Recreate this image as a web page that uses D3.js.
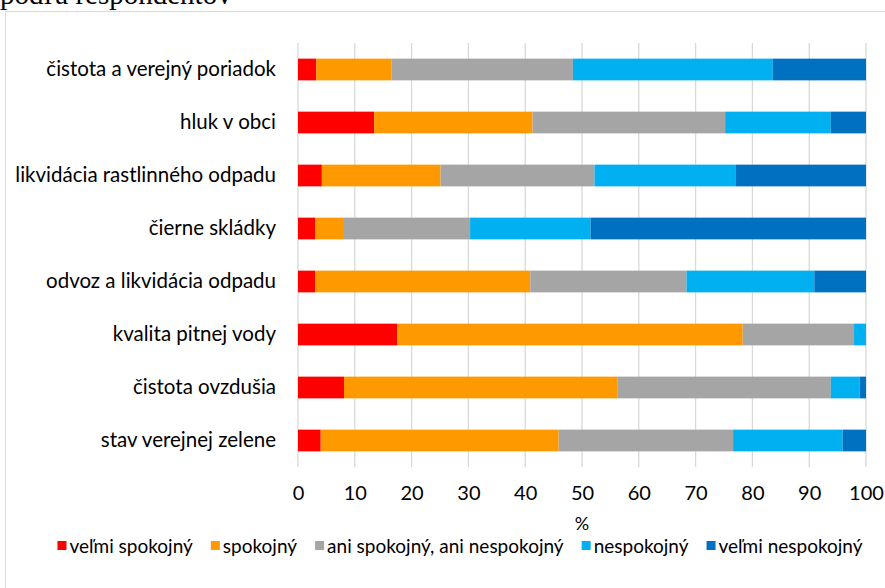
<!DOCTYPE html>
<html><head><meta charset="utf-8">
<script src="https://cdn.jsdelivr.net/npm/d3@7"></script>
<style>
html,body{margin:0;padding:0;background:#fff;}
svg{display:block;}
text{font-family:Lato,"Open Sans",sans-serif;fill:#000;}
</style></head>
<body>
<svg id="c" width="885" height="588"></svg>
<script>
const categories = ["čistota a verejný poriadok","hluk v obci","likvidácia rastlinného odpadu","čierne skládky","odvoz a likvidácia odpadu","kvalita pitnej vody","čistota ovzdušia","stav verejnej zelene"];
const seriesNames = ["veľmi spokojný","spokojný","ani spokojný, ani nespokojný","nespokojný","veľmi nespokojný"];
const velmiSpokojny   = [3.2, 13.4, 4.2, 3.0, 3.0, 17.5, 8.1, 4.0];
const spokojny        = [13.3, 27.9, 20.9, 5.1, 37.9, 60.8, 48.1, 41.9];
const aniAni          = [31.9, 33.9, 27.1, 22.2, 27.5, 19.6, 37.6, 30.7];
const nespokojny      = [35.2, 18.6, 24.9, 21.2, 22.5, 2.1, 5.1, 19.3];
const velmiNespokojny = [16.4, 6.2, 22.9, 48.5, 9.1, 0.0, 1.1, 4.1];
const xTicks = [0,10,20,30,40,50,60,70,80,90,100];
const colors = ["#FF0000","#FF9900","#A5A5A5","#00B0F0","#0070C0"];
const axisTitle = "%";
const topText = "podľa respondentov";

const seriesValues = [velmiSpokojny, spokojny, aniAni, nespokojny, velmiNespokojny];
const rows = categories.map((c,i)=>{const o={cat:c}; seriesNames.forEach((s,j)=>o[s]=seriesValues[j][i]); return o;});
const stacked = d3.stack().keys(seriesNames)(rows);

const svg = d3.select("#c");
const m = {left:298, right:866, top:43, bottom:467};
const x = d3.scaleLinear().domain([0,100]).range([m.left, m.right]);
const y = d3.scaleBand().domain(categories).range([m.top, m.bottom]).paddingInner(0.59).paddingOuter(0.295);

// top cut text
svg.append("text").attr("x",0).attr("y",4).style("font-family","'Liberation Serif',serif").style("font-size","29px").text(topText);
// chart frame
svg.append("path").attr("d","M5.5,600 V11.5 H890").attr("fill","none").attr("stroke","#d9d9d9").attr("stroke-width",1);

// gridlines
svg.append("g").selectAll("line").data(xTicks).join("line")
  .attr("x1",d=>x(d)).attr("x2",d=>x(d)).attr("y1",m.top).attr("y2",m.bottom)
  .attr("stroke","#d9d9d9").attr("stroke-width",1.3);

// bars
svg.append("g").selectAll("g").data(stacked).join("g").attr("fill",(d,i)=>colors[i])
  .selectAll("rect").data(d=>d).join("rect")
  .attr("x",d=>x(d[0])).attr("width",d=>Math.max(0,x(d[1])-x(d[0])))
  .attr("y",d=>y(d.data.cat)).attr("height",y.bandwidth());

// category labels
const yAxis = d3.axisLeft(y).tickSize(0).tickPadding(22);
const ya = svg.append("g").attr("transform",`translate(${m.left},0)`).call(yAxis);
ya.select(".domain").remove();
ya.selectAll("text").style("font-family","Lato").style("font-size","20.5px").attr("fill","#000");

// x axis tick labels
const xAxis = d3.axisBottom(x).tickValues(xTicks).tickSize(0).tickPadding(19);
const xa = svg.append("g").attr("transform",`translate(0,${m.bottom})`).call(xAxis);
xa.select(".domain").remove();
xa.selectAll("text").style("font-family","Lato").style("font-size","20px").attr("fill","#000");

svg.append("text").attr("x",(m.left+m.right)/2).attr("y",530).attr("text-anchor","middle").style("font-size","18px").text(axisTitle);

// legend
const lg = svg.append("g");
const items = lg.selectAll("g").data(seriesNames).join("g");
items.append("rect").attr("width",9).attr("height",9).attr("y",541).attr("fill",(d,i)=>colors[i]);
items.append("text").attr("x",12).attr("y",552.5).style("font-size","19px").text(d=>d);
let cx = 0; const widths=[];
items.each(function(d,i){const w=this.querySelector("text").getComputedTextLength(); widths.push(w);});
const gap = 18;
const total = d3.sum(widths.map(w=>12+w)) + gap*(widths.length-1);
cx = 460 - total/2;
items.attr("transform",(d,i)=>{const t=`translate(${cx},0)`; cx += 12+widths[i]+gap; return t;});
</script>
</body></html>
